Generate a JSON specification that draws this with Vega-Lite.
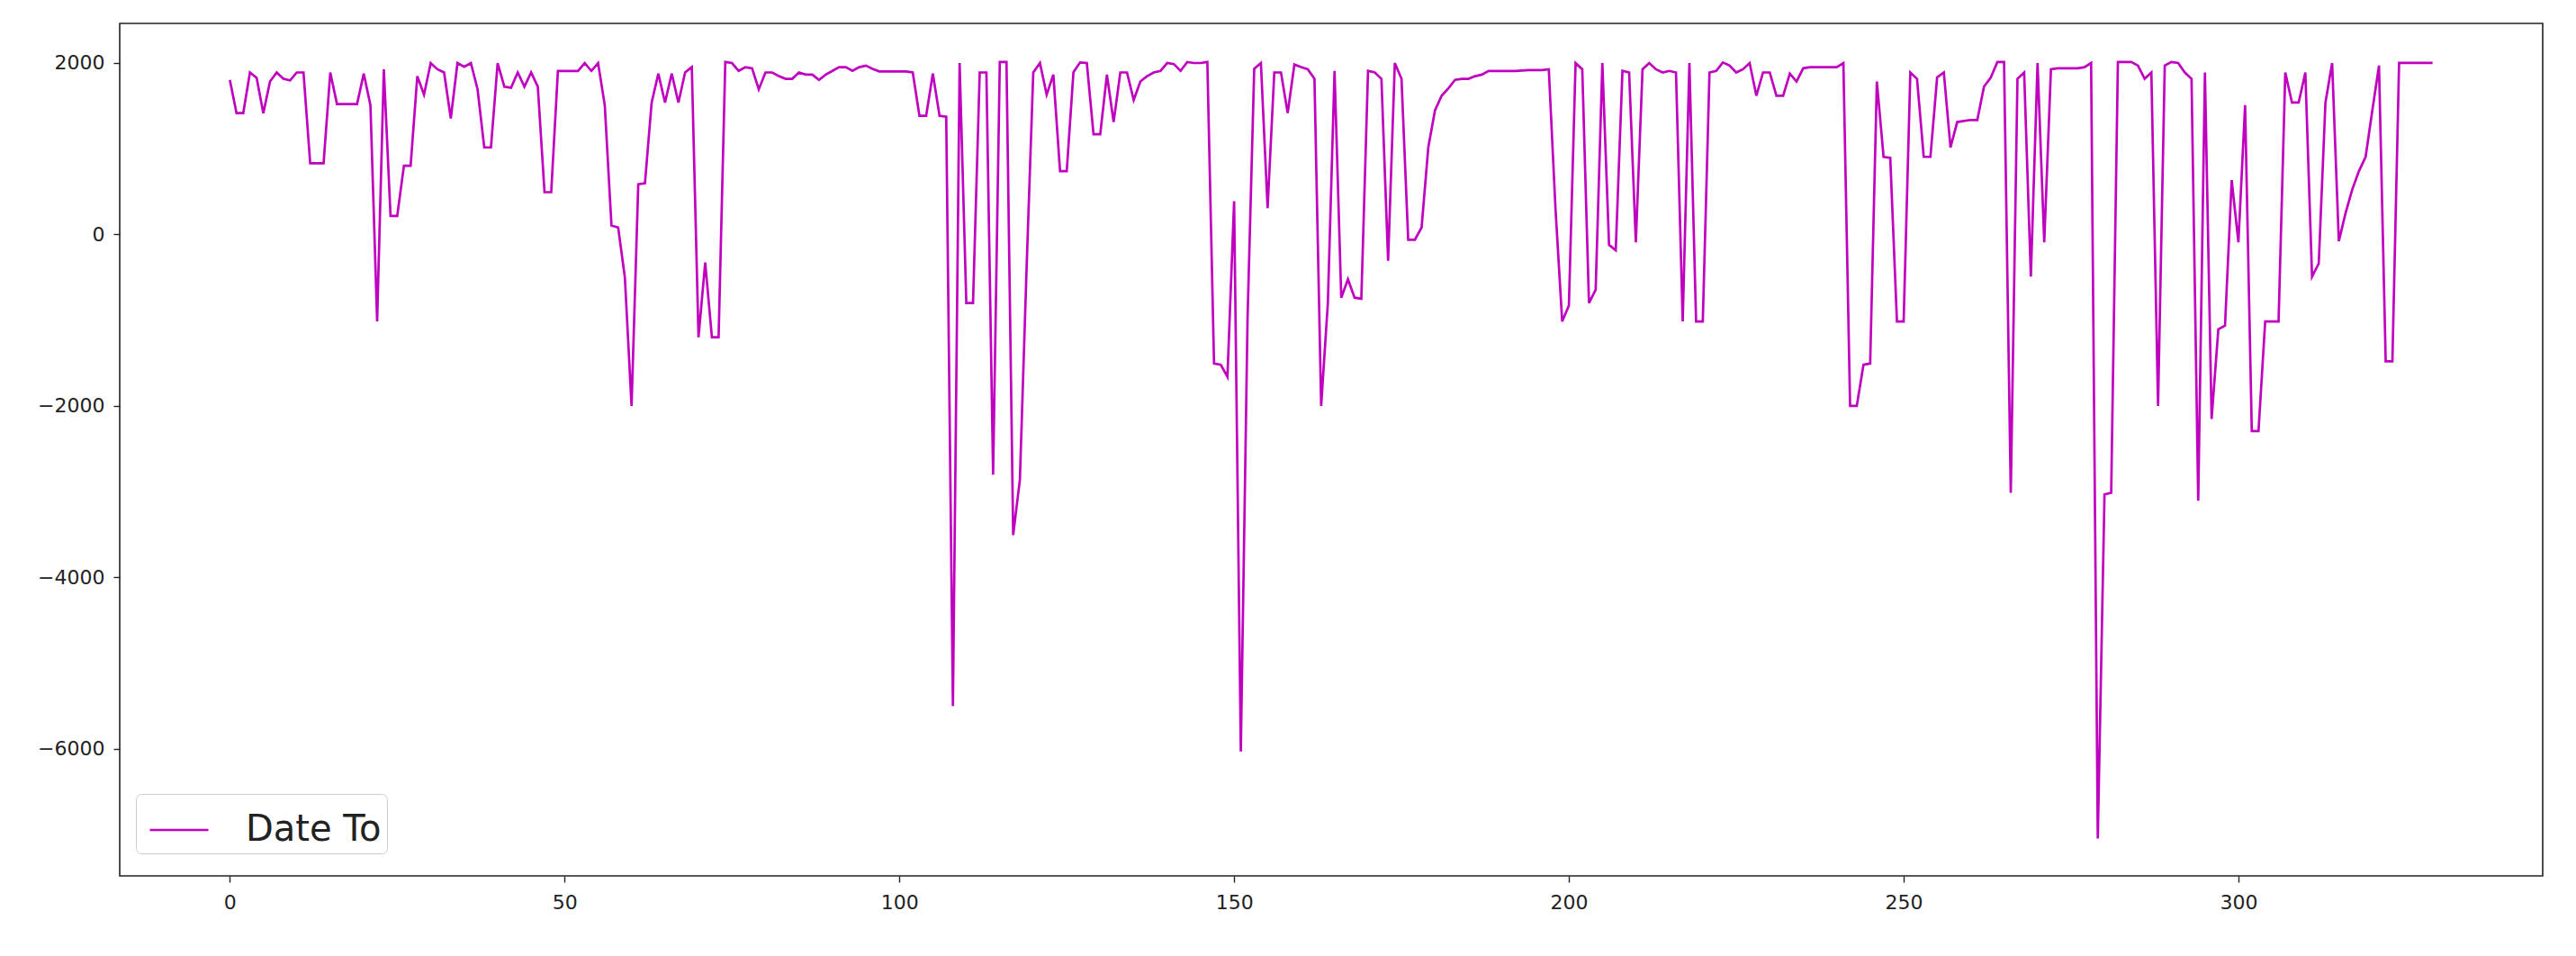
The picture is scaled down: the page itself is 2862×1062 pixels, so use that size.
{
  "$schema": "https://vega.github.io/schema/vega-lite/v6.json",
  "width": 2692,
  "height": 947,
  "autosize": {"type": "none"},
  "padding": {"left": 133, "top": 26, "right": 37, "bottom": 89},
  "background": "white",
  "config": {
    "view": {"stroke": "#222222", "strokeWidth": 1.6},
    "font": "DejaVu Sans",
    "axis": {"grid": false, "domain": false, "tickColor": "#222222", "tickSize": 7, "tickWidth": 1.4, "labelFont": "DejaVu Sans", "labelFontSize": 22, "labelColor": "#222222"}
  },
  "data": {"values": [
    {"i":0,"v":1800},{"i":1,"v":1414},{"i":2,"v":1414},{"i":3,"v":1888},{"i":4,"v":1826},{"i":5,"v":1414},{"i":6,"v":1783},{"i":7,"v":1888},{"i":8,"v":1814},{"i":9,"v":1795},
    {"i":10,"v":1888},{"i":11,"v":1888},{"i":12,"v":830},{"i":13,"v":830},{"i":14,"v":830},{"i":15,"v":1888},{"i":16,"v":1519},{"i":17,"v":1519},{"i":18,"v":1519},{"i":19,"v":1519},
    {"i":20,"v":1875},{"i":21,"v":1506},{"i":22,"v":-1015},{"i":23,"v":1925},{"i":24,"v":215},{"i":25,"v":215},{"i":26,"v":800},{"i":27,"v":800},{"i":28,"v":1845},{"i":29,"v":1629},
    {"i":30,"v":1998},{"i":31,"v":1925},{"i":32,"v":1888},{"i":33,"v":1353},{"i":34,"v":1998},{"i":35,"v":1955},{"i":36,"v":1998},{"i":37,"v":1691},{"i":38,"v":1014},{"i":39,"v":1014},
    {"i":40,"v":1998},{"i":41,"v":1722},{"i":42,"v":1710},{"i":43,"v":1888},{"i":44,"v":1722},{"i":45,"v":1888},{"i":46,"v":1722},{"i":47,"v":492},{"i":48,"v":492},{"i":49,"v":1906},
    {"i":50,"v":1906},{"i":51,"v":1906},{"i":52,"v":1906},{"i":53,"v":1998},{"i":54,"v":1906},{"i":55,"v":1998},{"i":56,"v":1506},{"i":57,"v":104},{"i":58,"v":80},{"i":59,"v":-500},
    {"i":60,"v":-2000},{"i":61,"v":584},{"i":62,"v":596},{"i":63,"v":1537},{"i":64,"v":1875},{"i":65,"v":1537},{"i":66,"v":1875},{"i":67,"v":1537},{"i":68,"v":1888},{"i":69,"v":1950},
    {"i":70,"v":-1200},{"i":71,"v":-327},{"i":72,"v":-1200},{"i":73,"v":-1200},{"i":74,"v":2010},{"i":75,"v":1998},{"i":76,"v":1906},{"i":77,"v":1950},{"i":78,"v":1937},{"i":79,"v":1691},
    {"i":80,"v":1888},{"i":81,"v":1888},{"i":82,"v":1845},{"i":83,"v":1814},{"i":84,"v":1814},{"i":85,"v":1888},{"i":86,"v":1863},{"i":87,"v":1863},{"i":88,"v":1802},{"i":89,"v":1863},
    {"i":90,"v":1906},{"i":91,"v":1950},{"i":92,"v":1950},{"i":93,"v":1906},{"i":94,"v":1950},{"i":95,"v":1968},{"i":96,"v":1930},{"i":97,"v":1900},{"i":98,"v":1900},{"i":99,"v":1900},
    {"i":100,"v":1900},{"i":101,"v":1900},{"i":102,"v":1888},{"i":103,"v":1383},{"i":104,"v":1383},{"i":105,"v":1875},{"i":106,"v":1383},{"i":107,"v":1371},{"i":108,"v":-5500},{"i":109,"v":1998},
    {"i":110,"v":-800},{"i":111,"v":-800},{"i":112,"v":1888},{"i":113,"v":1888},{"i":114,"v":-2800},{"i":115,"v":2010},{"i":116,"v":2010},{"i":117,"v":-3506},{"i":118,"v":-2860},{"i":119,"v":-400},
    {"i":120,"v":1888},{"i":121,"v":1998},{"i":122,"v":1629},{"i":123,"v":1863},{"i":124,"v":738},{"i":125,"v":738},{"i":126,"v":1890},{"i":127,"v":2005},{"i":128,"v":1998},{"i":129,"v":1168},
    {"i":130,"v":1168},{"i":131,"v":1863},{"i":132,"v":1310},{"i":133,"v":1888},{"i":134,"v":1888},{"i":135,"v":1568},{"i":136,"v":1783},{"i":137,"v":1845},{"i":138,"v":1888},{"i":139,"v":1906},
    {"i":140,"v":1998},{"i":141,"v":1986},{"i":142,"v":1906},{"i":143,"v":2010},{"i":144,"v":1998},{"i":145,"v":1998},{"i":146,"v":2010},{"i":147,"v":-1507},{"i":148,"v":-1520},{"i":149,"v":-1660},
    {"i":150,"v":387},{"i":151,"v":-6030},{"i":152,"v":-1000},{"i":153,"v":1930},{"i":154,"v":1998},{"i":155,"v":307},{"i":156,"v":1888},{"i":157,"v":1888},{"i":158,"v":1414},{"i":159,"v":1980},
    {"i":160,"v":1950},{"i":161,"v":1925},{"i":162,"v":1814},{"i":163,"v":-2000},{"i":164,"v":-800},{"i":165,"v":1906},{"i":166,"v":-738},{"i":167,"v":-523},{"i":168,"v":-738},{"i":169,"v":-750},
    {"i":170,"v":1906},{"i":171,"v":1888},{"i":172,"v":1814},{"i":173,"v":-308},{"i":174,"v":1998},{"i":175,"v":1814},{"i":176,"v":-62},{"i":177,"v":-62},{"i":178,"v":80},{"i":179,"v":1014},
    {"i":180,"v":1445},{"i":181,"v":1617},{"i":182,"v":1703},{"i":183,"v":1802},{"i":184,"v":1814},{"i":185,"v":1814},{"i":186,"v":1845},{"i":187,"v":1863},{"i":188,"v":1906},{"i":189,"v":1906},
    {"i":190,"v":1906},{"i":191,"v":1906},{"i":192,"v":1906},{"i":193,"v":1910},{"i":194,"v":1915},{"i":195,"v":1915},{"i":196,"v":1915},{"i":197,"v":1925},{"i":198,"v":300},{"i":199,"v":-1015},
    {"i":200,"v":-830},{"i":201,"v":1998},{"i":202,"v":1925},{"i":203,"v":-800},{"i":204,"v":-646},{"i":205,"v":1998},{"i":206,"v":-124},{"i":207,"v":-186},{"i":208,"v":1906},{"i":209,"v":1888},
    {"i":210,"v":-93},{"i":211,"v":1925},{"i":212,"v":1998},{"i":213,"v":1925},{"i":214,"v":1888},{"i":215,"v":1906},{"i":216,"v":1888},{"i":217,"v":-1015},{"i":218,"v":1998},{"i":219,"v":-1015},
    {"i":220,"v":-1015},{"i":221,"v":1888},{"i":222,"v":1906},{"i":223,"v":2005},{"i":224,"v":1968},{"i":225,"v":1888},{"i":226,"v":1925},{"i":227,"v":1998},{"i":228,"v":1617},{"i":229,"v":1888},
    {"i":230,"v":1888},{"i":231,"v":1617},{"i":232,"v":1617},{"i":233,"v":1875},{"i":234,"v":1783},{"i":235,"v":1937},{"i":236,"v":1950},{"i":237,"v":1950},{"i":238,"v":1950},{"i":239,"v":1950},
    {"i":240,"v":1950},{"i":241,"v":1998},{"i":242,"v":-2000},{"i":243,"v":-2000},{"i":244,"v":-1520},{"i":245,"v":-1507},{"i":246,"v":1783},{"i":247,"v":904},{"i":248,"v":891},{"i":249,"v":-1015},
    {"i":250,"v":-1015},{"i":251,"v":1888},{"i":252,"v":1814},{"i":253,"v":904},{"i":254,"v":904},{"i":255,"v":1830},{"i":256,"v":1888},{"i":257,"v":1014},{"i":258,"v":1310},{"i":259,"v":1322},
    {"i":260,"v":1334},{"i":261,"v":1334},{"i":262,"v":1722},{"i":263,"v":1826},{"i":264,"v":2010},{"i":265,"v":2010},{"i":266,"v":-3013},{"i":267,"v":1814},{"i":268,"v":1888},{"i":269,"v":-492},
    {"i":270,"v":1998},{"i":271,"v":-93},{"i":272,"v":1925},{"i":273,"v":1937},{"i":274,"v":1937},{"i":275,"v":1937},{"i":276,"v":1937},{"i":277,"v":1950},{"i":278,"v":1998},{"i":279,"v":-7045},
    {"i":280,"v":-3032},{"i":281,"v":-3013},{"i":282,"v":2010},{"i":283,"v":2010},{"i":284,"v":2010},{"i":285,"v":1968},{"i":286,"v":1814},{"i":287,"v":1888},{"i":288,"v":-2000},{"i":289,"v":1968},
    {"i":290,"v":2010},{"i":291,"v":1998},{"i":292,"v":1888},{"i":293,"v":1814},{"i":294,"v":-3106},{"i":295,"v":1888},{"i":296,"v":-2153},{"i":297,"v":-1107},{"i":298,"v":-1064},{"i":299,"v":633},
    {"i":300,"v":-93},{"i":301,"v":1506},{"i":302,"v":-2294},{"i":303,"v":-2294},{"i":304,"v":-1015},{"i":305,"v":-1015},{"i":306,"v":-1015},{"i":307,"v":1888},{"i":308,"v":1537},{"i":309,"v":1537},
    {"i":310,"v":1888},{"i":311,"v":-492},{"i":312,"v":-340},{"i":313,"v":1537},{"i":314,"v":1998},{"i":315,"v":-80},{"i":316,"v":246},{"i":317,"v":523},{"i":318,"v":738},{"i":319,"v":904},
    {"i":320,"v":1445},{"i":321,"v":1968},{"i":322,"v":-1480},{"i":323,"v":-1480},{"i":324,"v":2000},{"i":325,"v":2000},{"i":326,"v":2000},{"i":327,"v":2000},{"i":328,"v":2000},{"i":329,"v":2000}
  ]},
  "mark": {"type": "line", "strokeWidth": 2.7},
  "encoding": {
    "x": {"field": "i", "type": "quantitative", "scale": {"domain": [-16.45, 345.45], "nice": false, "zero": false}, "axis": {"values": [0, 50, 100, 150, 200, 250, 300], "format": "d", "labelPadding": 12, "title": null}},
    "y": {"field": "v", "type": "quantitative", "scale": {"domain": [-7480, 2460], "nice": false, "zero": false}, "axis": {"values": [-6000, -4000, -2000, 0, 2000], "format": "d", "labelPadding": 10, "title": null}},
    "color": {"datum": "Date To", "type": "nominal", "scale": {"range": ["#BF00BF"]}, "legend": {"orient": "none", "legendX": 18, "legendY": 856, "title": null, "symbolType": "stroke", "symbolSize": 4225, "symbolStrokeWidth": 2.7, "symbolOffset": 8, "labelFontSize": 40, "labelFont": "DejaVu Sans", "labelColor": "#222222", "padding": 6, "strokeColor": "#cccccc", "fillColor": "white", "cornerRadius": 6, "labelOffset": 40}}
  }
}
